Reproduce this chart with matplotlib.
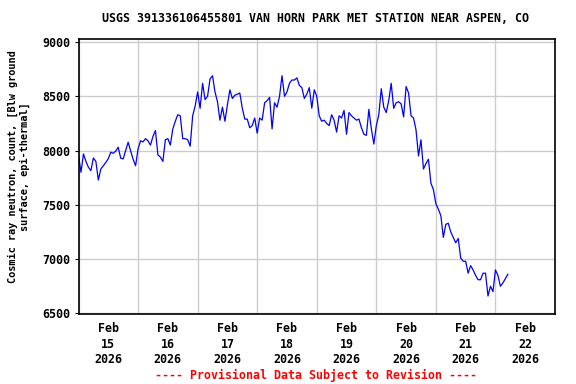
import numpy as np
import pandas as pd
import matplotlib
matplotlib.use("Agg")
import matplotlib.pyplot as plt
import matplotlib.dates as mdates

# hourly cosmic ray neutron counts starting Feb 15 2026 00:00
start = "2026-02-15 00:00"
counts = [
    # Feb 15
    7954, 7800, 7969, 7900, 7846, 7815, 7932, 7900, 7728, 7830, 7860, 7890,
    7925, 7985, 7975, 7995, 8031, 7930, 7923, 8000, 8077, 8000, 7920, 7860,
    # Feb 16
    8015, 8090, 8080, 8110, 8090, 8050, 8130, 8185, 7960, 7940, 7900, 8100,
    8110, 8050, 8200, 8270, 8330, 8320, 8110, 8110, 8100, 8040, 8320, 8410,
    # Feb 17
    8540, 8390, 8620, 8470, 8500, 8660, 8690, 8540, 8450, 8280, 8400, 8270,
    8420, 8560, 8480, 8510, 8520, 8530, 8390, 8290, 8290, 8210, 8230, 8300,
    # Feb 18
    8160, 8300, 8280, 8440, 8460, 8490, 8200, 8440, 8400, 8500, 8690, 8500,
    8540, 8620, 8650, 8650, 8670, 8600, 8580, 8480, 8520, 8580, 8390, 8560,
    # Feb 19
    8500, 8320, 8270, 8280, 8250, 8230, 8330, 8280, 8170, 8320, 8300, 8370,
    8150, 8350, 8320, 8300, 8280, 8290, 8210, 8150, 8140, 8380, 8200, 8060,
    # Feb 20
    8230, 8330, 8570, 8400, 8350, 8460, 8620, 8390, 8440, 8450, 8430, 8310,
    8590, 8530, 8320, 8300, 8190, 7950, 8100, 7830, 7880, 7920, 7700, 7640,
    # Feb 21
    7510, 7460, 7400, 7200, 7320, 7330, 7250, 7200, 7150, 7190, 7010, 6980,
    6980, 6870, 6940, 6900, 6850, 6810, 6810, 6870, 6870, 6660, 6750, 6700,
    # Feb 22
    6900, 6850, 6750, 6780, 6820, 6860,
]
times = pd.date_range(start, periods=len(counts), freq="h")

y_ticks = [6500, 7000, 7500, 8000, 8500, 9000]
title = "USGS 391336106455801 VAN HORN PARK MET STATION NEAR ASPEN, CO"
ylabel = "Cosmic ray neutron, count, [Blw ground\nsurface, epi-thermal]"
footer = "---- Provisional Data Subject to Revision ----"

mono = "DejaVu Sans Mono"
fs = 8.4

fig = plt.figure(figsize=(5.76, 3.84), dpi=100)
ax = fig.add_axes([78.5 / 576, 1 - 314 / 384, (555 - 78.5) / 576, (314 - 39) / 384])

ax.plot(times, counts, color="#0000ff", lw=0.9)

ax.set_xlim(pd.Timestamp("2026-02-15"), pd.Timestamp("2026-02-23"))
ax.set_ylim(6494, 9028)
ax.set_yticks(y_ticks)
ax.set_yticklabels([str(v) for v in y_ticks], fontfamily=mono, fontweight="bold", fontsize=fs)

# gridlines at midnight, labels at noon
ax.xaxis.set_major_locator(mdates.DayLocator())
ax.xaxis.set_major_formatter(plt.NullFormatter())
ax.xaxis.set_minor_locator(mdates.HourLocator(byhour=[12]))
ax.xaxis.set_minor_formatter(mdates.DateFormatter("%b\n%d\n%Y"))
ax.tick_params(axis="x", which="major", length=0)
ax.tick_params(axis="x", which="minor", length=0, pad=6)
ax.tick_params(axis="y", length=3, pad=3)
for lab in ax.get_xticklabels(minor=True):
    lab.set_fontfamily(mono)
    lab.set_fontweight("bold")
    lab.set_fontsize(fs)
    lab.set_linespacing(1.25)

ax.grid(True, which="major", color="#cccccc", lw=1)
ax.set_axisbelow(True)
for s in ax.spines.values():
    s.set_linewidth(1.2)

fig.text(316 / 576, 1 - 19 / 384, title, ha="center", va="center",
         fontfamily=mono, fontweight="bold", fontsize=fs)
fig.text(19 / 576, 1 - 167 / 384, ylabel, rotation=90, ha="center", va="center",
         multialignment="center", fontfamily=mono, fontweight="bold", fontsize=7.4,
         linespacing=1.3)
fig.text(316 / 576, 1 - 375 / 384, footer, ha="center", va="center",
         fontfamily=mono, fontweight="bold", fontsize=fs, color="red")

fig.savefig("out.png", dpi=100)
